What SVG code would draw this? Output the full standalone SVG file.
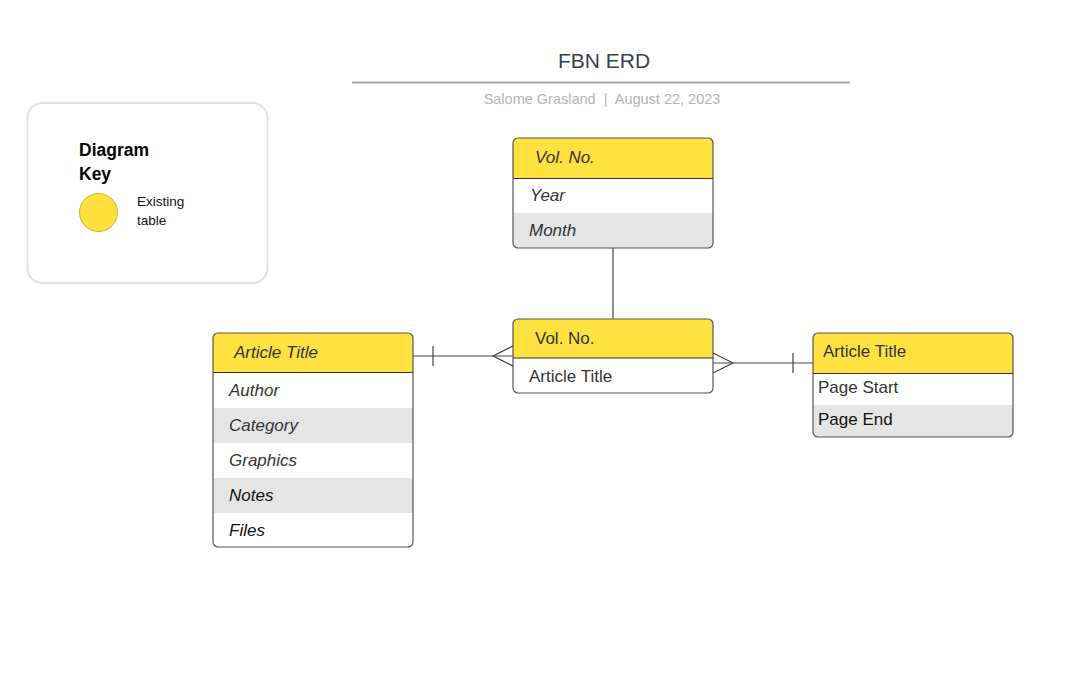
<svg xmlns="http://www.w3.org/2000/svg" width="1092" height="689" viewBox="0 0 1092 689">
<style>
text{font-family:"Liberation Sans",Arial,sans-serif;fill:#333}
.hdr{fill:#ffe23f}
.alt{fill:#e5e5e5}
.frame{fill:none;stroke:#555;stroke-width:1.2}
.sep{stroke:#333;stroke-width:1.2}
.f{font-size:17px}
.it{font-style:italic}
.con{fill:none;stroke:#444;stroke-width:1.2}
</style>
<rect width="1092" height="689" fill="#fff"/>
<g id="title">
<text x="604" y="68" font-size="21" text-anchor="middle" style="fill:#3a3f4a">FBN ERD</text>
<line x1="352" y1="82.5" x2="850" y2="82.5" stroke="#a5a5a5" stroke-width="2"/>
<text x="602" y="104" font-size="14.5" text-anchor="middle" xml:space="preserve" style="fill:#b3b3bb;white-space:pre">Salome Grasland  |  August 22, 2023</text>
</g>
<g id="legend">
<rect x="27.5" y="103" width="240" height="180" rx="15" fill="#fff" stroke="#e2e2e2" stroke-width="2"/>
<text x="79" y="156" font-size="17.5" font-weight="bold" style="fill:#000">Diagram</text>
<text x="79" y="180" font-size="17.5" font-weight="bold" style="fill:#000">Key</text>
<circle cx="98.5" cy="212.5" r="19" fill="#ffe03c" stroke="#c9b232" stroke-width="1"/>
<text x="137" y="206" font-size="13.5" style="fill:#111">Existing</text>
<text x="137" y="225" font-size="13.5" style="fill:#111">table</text>
</g>
<g id="connectors">
<line class="con" x1="613" y1="248" x2="613" y2="319"/>
<line class="con" x1="413" y1="356" x2="513" y2="356"/>
<line class="con" x1="433" y1="346" x2="433" y2="366"/>
<polyline class="con" points="513,346 493,356 513,366"/>
<line class="con" x1="713" y1="363" x2="813" y2="363"/>
<line class="con" x1="793" y1="353" x2="793" y2="373"/>
<polyline class="con" points="713,353 733,363 713,373"/>
</g>
<g id="vol-top">
<clipPath id="c1"><rect x="513" y="138" width="200" height="110" rx="5"/></clipPath>
<g clip-path="url(#c1)">
<rect x="513" y="138" width="200" height="110" fill="#fff"/>
<rect class="hdr" x="513" y="138" width="200" height="40"/>
<rect class="alt" x="513" y="213" width="200" height="35"/>
</g>
<line class="sep" x1="513" y1="178.5" x2="713" y2="178.5"/>
<rect class="frame" x="513" y="138" width="200" height="110" rx="5"/>
<text class="f it" x="535" y="163">Vol. No.</text>
<text class="f it" x="530" y="201">Year</text>
<text class="f it" x="529" y="236">Month</text>
</g>
<g id="vol-mid">
<clipPath id="c2"><rect x="513" y="319" width="200" height="74" rx="5"/></clipPath>
<g clip-path="url(#c2)">
<rect x="513" y="319" width="200" height="74" fill="#fff"/>
<rect class="hdr" x="513" y="319" width="200" height="39"/>
</g>
<line class="sep" x1="513" y1="358" x2="713" y2="358"/>
<rect class="frame" x="513" y="319" width="200" height="74" rx="5"/>
<text class="f" x="535" y="344">Vol. No.</text>
<text class="f" x="529" y="382">Article Title</text>
</g>
<g id="article">
<clipPath id="c3"><rect x="213" y="333" width="200" height="214" rx="5"/></clipPath>
<g clip-path="url(#c3)">
<rect x="213" y="333" width="200" height="214" fill="#fff"/>
<rect class="hdr" x="213" y="333" width="200" height="39"/>
<rect class="alt" x="213" y="408" width="200" height="35"/>
<rect class="alt" x="213" y="478" width="200" height="35"/>
</g>
<line class="sep" x1="213" y1="372.5" x2="413" y2="372.5"/>
<rect class="frame" x="213" y="333" width="200" height="214" rx="5"/>
<text class="f it" x="234" y="358">Article Title</text>
<text class="f it" x="229" y="396">Author</text>
<text class="f it" x="229" y="431">Category</text>
<text class="f it" x="229" y="466">Graphics</text>
<text class="f it" x="229" y="501" style="fill:#111">Notes</text>
<text class="f it" x="229" y="536" style="fill:#111">Files</text>
</g>
<g id="pages">
<clipPath id="c4"><rect x="813" y="333" width="200" height="104" rx="5"/></clipPath>
<g clip-path="url(#c4)">
<rect x="813" y="333" width="200" height="104" fill="#fff"/>
<rect class="hdr" x="813" y="333" width="200" height="40"/>
<rect class="alt" x="813" y="405" width="200" height="32"/>
</g>
<line class="sep" x1="813" y1="373.5" x2="1013" y2="373.5"/>
<rect class="frame" x="813" y="333" width="200" height="104" rx="5"/>
<text class="f" x="823" y="357">Article Title</text>
<text class="f" x="818" y="393">Page Start</text>
<text class="f" x="818" y="425" style="fill:#111">Page End</text>
</g>
</svg>
